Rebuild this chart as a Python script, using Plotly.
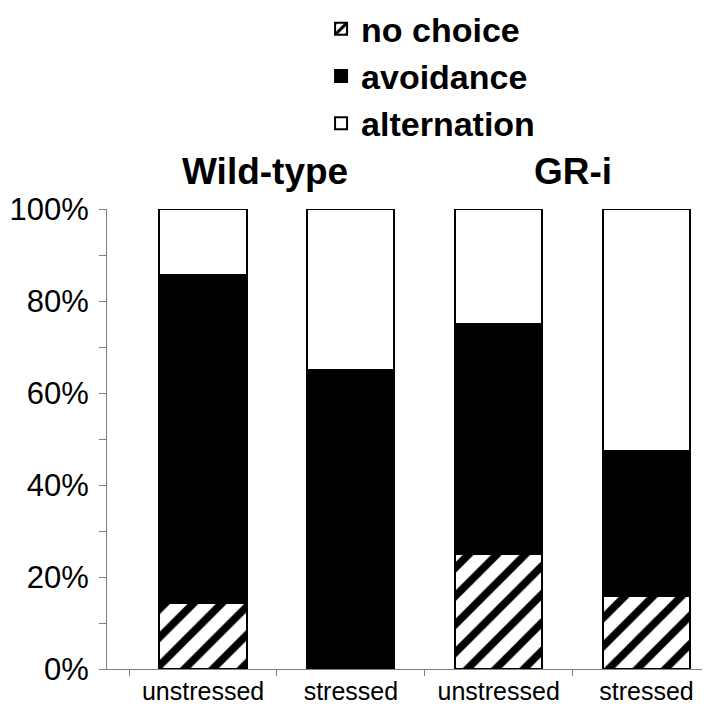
import plotly.graph_objects as go

# ---- data ----
categories = ["WT unstressed", "WT stressed", "GR-i unstressed", "GR-i stressed"]
tick_labels = ["unstressed", "stressed", "unstressed", "stressed"]
group_titles = ["Wild-type", "GR-i"]
no_choice = [14.3, 0.0, 25.0, 15.8]
avoidance = [71.4, 65.0, 50.0, 31.6]
alternation = [14.3, 35.0, 25.0, 52.6]

FONT = "Liberation Sans, Arial, sans-serif"

fig = go.Figure()
fig.add_trace(go.Bar(
    x=categories, y=no_choice, name="no choice",
    marker=dict(color="white",
                pattern=dict(shape="/", fgcolor="black", bgcolor="white",
                             fgopacity=1, size=20, solidity=0.38,
                             fillmode="replace"),
                line=dict(color="black", width=2)),
))
fig.add_trace(go.Bar(
    x=categories, y=avoidance, name="avoidance",
    marker=dict(color="black", line=dict(color="black", width=2)),
))
fig.add_trace(go.Bar(
    x=categories, y=alternation, name="alternation",
    marker=dict(color="white", line=dict(color="black", width=2)),
))

# the page body adds an 8px offset, so the figure is 8px smaller on each side
fig.update_layout(
    width=702, height=711,
    barmode="stack", bargap=0.41,
    plot_bgcolor="white", paper_bgcolor="white",
    margin=dict(l=99, r=0, t=201, b=50, autoexpand=False),
    font=dict(family=FONT, color="black"),
    legend=dict(x=0.355, y=1.454, xanchor="left", yanchor="top",
                traceorder="normal",
                font=dict(family=FONT, size=34, color="black", weight="bold"),
                bgcolor="rgba(0,0,0,0)"),
    xaxis=dict(type="category", range=[-0.65, 3.43],
               tickmode="array", tickvals=categories, ticktext=tick_labels,
               tickson="boundaries", ticks="outside", ticklen=6,
               tickcolor="#808080", showline=True, linecolor="#808080",
               linewidth=1, showgrid=False, zeroline=False,
               tickfont=dict(family=FONT, size=25, color="black")),
    yaxis=dict(range=[0, 100], dtick=20, ticksuffix="%",
               ticks="outside", ticklen=7, tickcolor="#808080",
               minor=dict(dtick=10, ticks="outside", ticklen=7, tickcolor="#808080"),
               showline=True, linecolor="#808080", linewidth=1,
               showgrid=False, zeroline=False, ticklabelstandoff=4,
               tickfont=dict(family=FONT, size=31, color="black")),
)

title_shift = [-12, 0]
for i, title in enumerate(group_titles):
    fig.add_annotation(x=2 * i + 0.5, xref="x", y=1, yref="paper",
                       yanchor="bottom", yshift=15, xshift=title_shift[i],
                       showarrow=False, text="<b>%s</b>" % title,
                       font=dict(family=FONT, size=37, color="black"))

fig.write_html("out.html")
